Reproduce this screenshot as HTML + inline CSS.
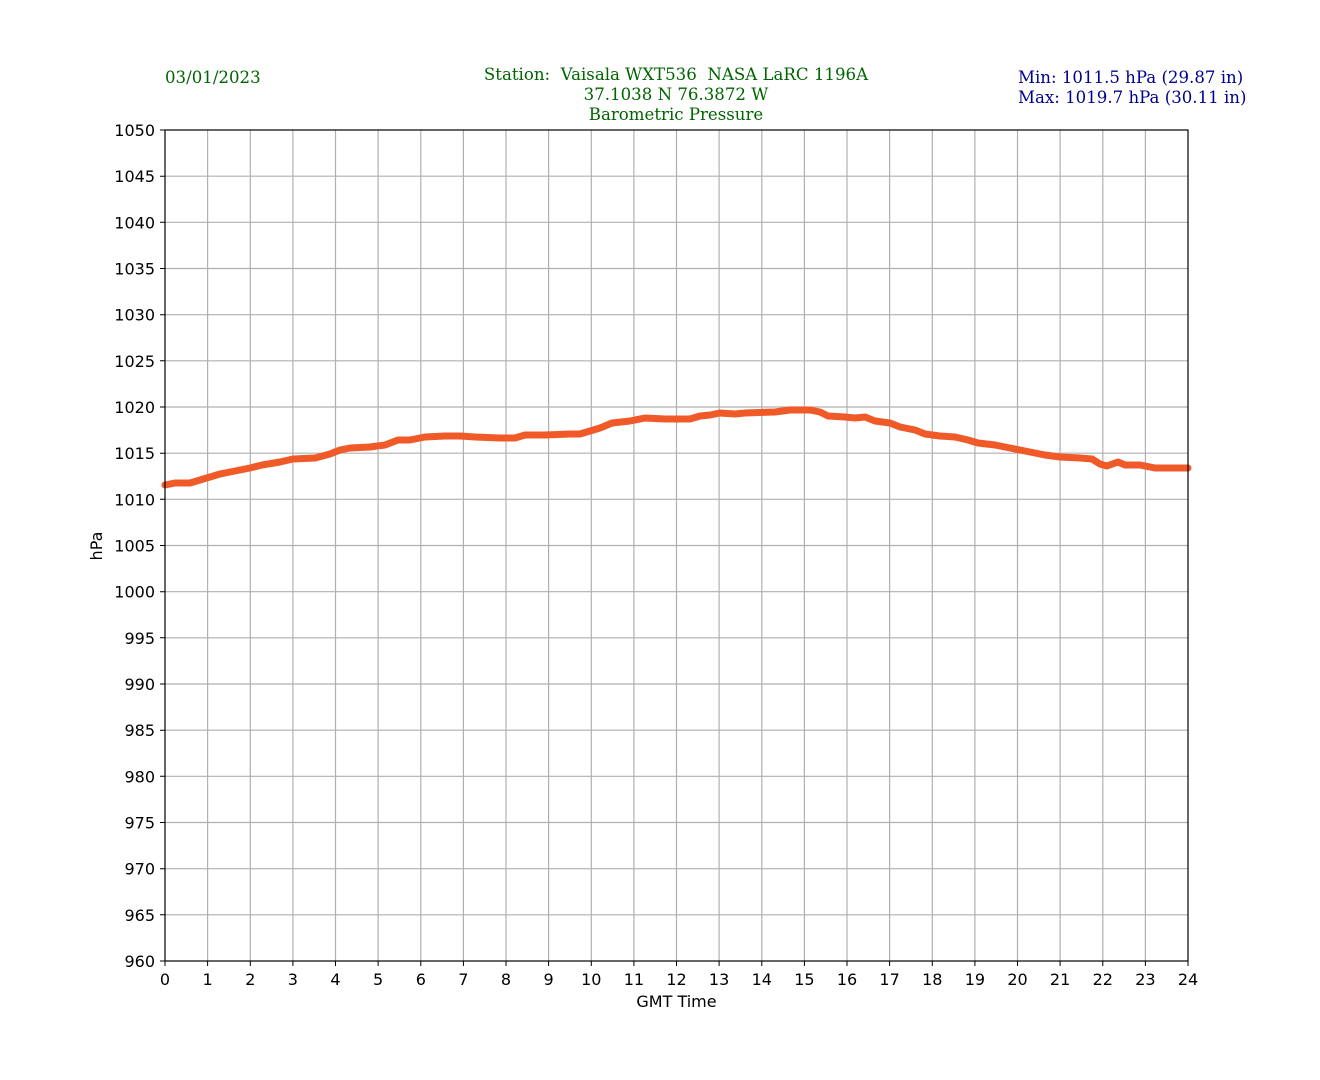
<!DOCTYPE html>
<html><head><meta charset="utf-8"><style>body{margin:0;background:#fff}svg{display:block}text{white-space:pre}</style></head><body>
<svg width="1320" height="1080" xmlns="http://www.w3.org/2000/svg">
<rect width="1320" height="1080" fill="#fff"/>
<g font-family="DejaVu Serif, Liberation Serif, serif" font-size="16.6">
<text x="165" y="83" fill="#006400">03/01/2023</text>
<text x="676" y="80" fill="#006400" text-anchor="middle" xml:space="preserve">Station:  Vaisala WXT536  NASA LaRC 1196A</text>
<text x="676" y="100" fill="#006400" text-anchor="middle">37.1038 N 76.3872 W</text>
<text x="676" y="120" fill="#006400" text-anchor="middle">Barometric Pressure</text>
<text x="1018" y="83" fill="#00008b">Min: 1011.5 hPa (29.87 in)</text>
<text x="1018" y="103" fill="#00008b">Max: 1019.7 hPa (30.11 in)</text>
</g>
<g stroke="#b0b0b0" stroke-width="1.2">
<path d="M207.6 130V961M250.3 130V961M292.9 130V961M335.5 130V961M378.1 130V961M420.8 130V961M463.4 130V961M506 130V961M548.6 130V961M591.3 130V961M633.9 130V961M676.5 130V961M719.1 130V961M761.8 130V961M804.4 130V961M847 130V961M889.6 130V961M932.3 130V961M974.9 130V961M1017.5 130V961M1060.1 130V961M1102.8 130V961M1145.4 130V961"/>
<path d="M165 176.2H1188M165 222.3H1188M165 268.5H1188M165 314.7H1188M165 360.8H1188M165 407H1188M165 453.2H1188M165 499.3H1188M165 545.5H1188M165 591.7H1188M165 637.8H1188M165 684H1188M165 730.2H1188M165 776.3H1188M165 822.5H1188M165 868.7H1188M165 914.8H1188"/>
</g>
<polyline fill="none" stroke="#f05a28" stroke-width="7" stroke-linejoin="round" stroke-linecap="round" points="165,485 175,483 190,483 200,480 210,477 220,474 235,471 250,468 262,465 280,462 293,459 315,458 330,454 340,450 350,448 370,447 385,445 398,440 410,440 425,437 445,436 460,436 475,437 500,438 515,438 525,435 545,435 570,434 580,434 590,431 600,428 612,423 630,421 645,418 665,419 690,419 700,416 710,415 720,413 735,414 745,413 775,412 790,410 810,410 820,412 828,416 845,417 855,418 865,417 875,421 890,423 900,427 915,430 925,434 940,436 955,437 968,440 978,443 995,445 1010,448 1025,451 1045,455 1060,457 1080,458 1092,459 1100,464 1107,466 1118,462 1125,465 1140,465 1155,468 1168,468 1188,468"/>
<rect x="165" y="130" width="1023" height="831" fill="none" stroke="#000" stroke-width="1.2"/>
<g stroke="#000" stroke-width="1">
<path d="M160 130H165M160 176.2H165M160 222.3H165M160 268.5H165M160 314.7H165M160 360.8H165M160 407H165M160 453.2H165M160 499.3H165M160 545.5H165M160 591.7H165M160 637.8H165M160 684H165M160 730.2H165M160 776.3H165M160 822.5H165M160 868.7H165M160 914.8H165M160 961H165"/>
<path d="M165 961V966M207.6 961V966M250.3 961V966M292.9 961V966M335.5 961V966M378.1 961V966M420.8 961V966M463.4 961V966M506 961V966M548.6 961V966M591.3 961V966M633.9 961V966M676.5 961V966M719.1 961V966M761.8 961V966M804.4 961V966M847 961V966M889.6 961V966M932.3 961V966M974.9 961V966M1017.5 961V966M1060.1 961V966M1102.8 961V966M1145.4 961V966M1188 961V966"/>
</g>
<g font-family="DejaVu Sans, Liberation Sans, sans-serif" font-size="16" fill="#000" text-anchor="end">
<text x="155" y="136">1050</text><text x="155" y="182.2">1045</text><text x="155" y="228.3">1040</text><text x="155" y="274.5">1035</text><text x="155" y="320.7">1030</text><text x="155" y="366.8">1025</text><text x="155" y="413">1020</text><text x="155" y="459.2">1015</text><text x="155" y="505.3">1010</text><text x="155" y="551.5">1005</text><text x="155" y="597.7">1000</text><text x="155" y="643.8">995</text><text x="155" y="690">990</text><text x="155" y="736.2">985</text><text x="155" y="782.3">980</text><text x="155" y="828.5">975</text><text x="155" y="874.7">970</text><text x="155" y="920.8">965</text><text x="155" y="967">960</text>
</g>
<g font-family="DejaVu Sans, Liberation Sans, sans-serif" font-size="16" fill="#000" text-anchor="middle">
<text x="165" y="985">0</text><text x="207.6" y="985">1</text><text x="250.3" y="985">2</text><text x="292.9" y="985">3</text><text x="335.5" y="985">4</text><text x="378.1" y="985">5</text><text x="420.8" y="985">6</text><text x="463.4" y="985">7</text><text x="506" y="985">8</text><text x="548.6" y="985">9</text><text x="591.3" y="985">10</text><text x="633.9" y="985">11</text><text x="676.5" y="985">12</text><text x="719.1" y="985">13</text><text x="761.8" y="985">14</text><text x="804.4" y="985">15</text><text x="847" y="985">16</text><text x="889.6" y="985">17</text><text x="932.3" y="985">18</text><text x="974.9" y="985">19</text><text x="1017.5" y="985">20</text><text x="1060.1" y="985">21</text><text x="1102.8" y="985">22</text><text x="1145.4" y="985">23</text><text x="1188" y="985">24</text>
<text x="676.5" y="1007">GMT Time</text>
<text x="0" y="0" transform="translate(102,546) rotate(-90)">hPa</text>
</g>
</svg>
</body></html>
